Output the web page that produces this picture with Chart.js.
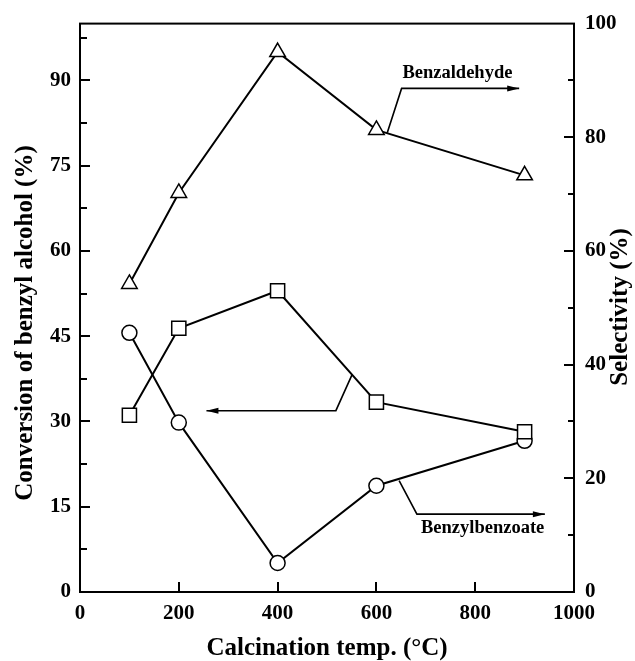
<!DOCTYPE html>
<html><head><meta charset="utf-8">
<script src="https://cdn.jsdelivr.net/npm/chart.js@4.4.1/dist/chart.umd.min.js"></script>
<style>html,body{margin:0;padding:0;background:#fff}#wrap{width:635px;height:661px;position:relative}</style>
</head><body><div id="wrap"><canvas id="c" width="635" height="661"></canvas></div>
<script>
// ---- data ----
const temps = [100, 200, 400, 600, 900];
const benzaldehydeSel = [54.2, 70.2, 95.0, 81.3, 73.3];
const conversion = [31.1, 46.4, 53.0, 33.4, 28.2];
const benzylbenzoateSel = [45.6, 29.8, 5.1, 18.7, 26.6];
const xTickLabels = [0, 200, 400, 600, 800, 1000];
const leftTickLabels = [0, 15, 30, 45, 60, 75, 90];
const rightTickLabels = [0, 20, 40, 60, 80, 100];
const xTitle = 'Calcination temp. (\u00B0C)';
const leftTitle = 'Conversion of benzyl alcohol (%)';
const rightTitle = 'Selectivity (%)';
const label1 = 'Benzaldehyde';
const label2 = 'Benzylbenzoate';

// annotation paths in data coordinates (x, selectivity/conversion %)
const benzaldehydeLeader = [[622, 80.8], [651, 88.6], [889, 88.6]];
const benzaldehydeTextPos = [764, 91.2];
const conversionLeader = [[551, 38.3], [518, 31.9], [256, 31.9]];
const benzoateLeader = [[646, 19.6], [682, 13.7], [941, 13.7]];
const benzoateTextPos = [815, 11.3];

const SERIF = '"Liberation Serif", "Times New Roman", serif';
const pts = (ys) => temps.map((t, i) => ({x: t, y: ys[i]}));

function arrowPath(ctx, xs, ys, p) {
  const P = p.map(q => [xs.getPixelForValue(q[0]), ys.getPixelForValue(q[1])]);
  ctx.beginPath();
  ctx.moveTo(P[0][0], P[0][1]);
  for (let i = 1; i < P.length; i++) ctx.lineTo(P[i][0], P[i][1]);
  ctx.stroke();
  const a = P[P.length - 2], b = P[P.length - 1];
  const ang = Math.atan2(b[1] - a[1], b[0] - a[0]);
  const L = 12, W = 3;
  ctx.beginPath();
  ctx.moveTo(b[0], b[1]);
  ctx.lineTo(b[0] - L * Math.cos(ang) + W * Math.sin(ang), b[1] - L * Math.sin(ang) - W * Math.cos(ang));
  ctx.lineTo(b[0] - L * Math.cos(ang) - W * Math.sin(ang), b[1] - L * Math.sin(ang) + W * Math.cos(ang));
  ctx.closePath();
  ctx.fill();
}

const decor = {
  id: 'decor',
  afterDraw(chart) {
    const {ctx, chartArea: A, scales} = chart;
    const xs = scales.x, yl = scales.y, yr = scales.y2;
    ctx.save();
    ctx.strokeStyle = '#000'; ctx.fillStyle = '#000';
    // frame
    ctx.lineWidth = 2;
    ctx.strokeRect(A.left, A.top, A.right - A.left, A.bottom - A.top);
    // inward ticks
    ctx.lineWidth = 2;
    ctx.beginPath();
    yl.ticks.forEach(t => {
      if (t.value <= 0 || t.value >= 100) return;
      const py = Math.round(yl.getPixelForValue(t.value));
      const len = leftTickLabels.includes(t.value) ? 10 : 7;
      ctx.moveTo(A.left, py); ctx.lineTo(A.left + len, py);
    });
    yr.ticks.forEach(t => {
      if (t.value <= 0 || t.value >= 100) return;
      const py = Math.round(yr.getPixelForValue(t.value));
      const len = rightTickLabels.includes(t.value) ? 10 : 6;
      ctx.moveTo(A.right, py); ctx.lineTo(A.right - len, py);
    });
    xs.ticks.forEach(t => {
      if (t.value <= 0 || t.value >= 1000) return;
      const px = Math.round(xs.getPixelForValue(t.value));
      ctx.moveTo(px, A.bottom); ctx.lineTo(px, A.bottom - 10);
    });
    ctx.stroke();
    // axis titles (vertical, reading bottom to top)
    ctx.font = 'bold 25px ' + SERIF;
    ctx.textAlign = 'center'; ctx.textBaseline = 'middle';
    ctx.save(); ctx.translate(25.5, 323); ctx.rotate(-Math.PI / 2); ctx.fillText(leftTitle, 0, 0); ctx.restore();
    ctx.save(); ctx.translate(620.5, 307); ctx.rotate(-Math.PI / 2); ctx.fillText(rightTitle, 0, 0); ctx.restore();
    // annotations
    ctx.lineWidth = 1.6;
    arrowPath(ctx, xs, yr, benzaldehydeLeader);
    arrowPath(ctx, xs, yl, conversionLeader);
    arrowPath(ctx, xs, yr, benzoateLeader);
    ctx.font = 'bold 18.5px ' + SERIF;
    ctx.fillText(label1, xs.getPixelForValue(benzaldehydeTextPos[0]), yr.getPixelForValue(benzaldehydeTextPos[1]));
    ctx.fillText(label2, xs.getPixelForValue(benzoateTextPos[0]), yr.getPixelForValue(benzoateTextPos[1]));
    ctx.restore();
  }
};

const tickFont = {family: SERIF, size: 21, weight: 'bold'};
const common = {borderColor: '#000', backgroundColor: '#fff', borderWidth: 2, pointBorderWidth: 1.5,
  pointBackgroundColor: '#fff', pointBorderColor: '#000', tension: 0, showLine: true, clip: false};

new Chart(document.getElementById('c'), {
  type: 'scatter',
  data: {
    datasets: [
      Object.assign({label: 'Benzaldehyde selectivity', data: pts(benzaldehydeSel), yAxisID: 'y2', pointStyle: 'triangle', pointRadius: 9}, common),
      Object.assign({label: 'Conversion', data: pts(conversion), yAxisID: 'y', pointStyle: 'rect', pointRadius: 10}, common),
      Object.assign({label: 'Benzylbenzoate selectivity', data: pts(benzylbenzoateSel), yAxisID: 'y2', pointStyle: 'circle', pointRadius: 7.5}, common)
    ]
  },
  options: {
    responsive: false, animation: false,
    layout: {padding: {top: 20, left: 0, right: 0, bottom: 0}},
    plugins: {legend: {display: false}, tooltip: {enabled: false}},
    scales: {
      x: {type: 'linear', position: 'bottom', min: 0, max: 1000,
        grid: {display: false, drawTicks: false}, border: {display: false},
        afterBuildTicks: s => { s.ticks = xTickLabels.map(v => ({value: v})); },
        ticks: {font: tickFont, color: '#000', padding: 9, autoSkip: false, maxRotation: 0,
          callback: v => String(v)},
        title: {display: true, text: xTitle, color: '#000', font: {family: SERIF, size: 25, weight: 'bold', lineHeight: 1}, padding: 0},
        afterFit: s => { s.height = 69; }
      },
      y: {type: 'linear', position: 'left', min: 0, max: 100,
        grid: {display: false, drawTicks: false}, border: {display: false},
        afterBuildTicks: s => {
          const t = [];
          leftTickLabels.forEach(v => { t.push({value: v}); t.push({value: v + 7.5}); });
          s.ticks = t;
        },
        ticks: {font: tickFont, color: '#000', padding: 9, autoSkip: false,
          callback: v => leftTickLabels.includes(v) ? String(v) : ''},
        afterFit: s => { s.width = 80; }
      },
      y2: {type: 'linear', position: 'right', min: 0, max: 100,
        grid: {display: false, drawTicks: false}, border: {display: false},
        afterBuildTicks: s => {
          const t = [];
          rightTickLabels.forEach(v => { t.push({value: v}); if (v < 100) t.push({value: v + 10}); });
          s.ticks = t;
        },
        ticks: {font: tickFont, color: '#000', padding: 11, autoSkip: false,
          callback: v => rightTickLabels.includes(v) ? String(v) : ''},
        afterFit: s => { s.width = 61; }
      }
    }
  },
  plugins: [decor]
});
</script>
</body></html>
